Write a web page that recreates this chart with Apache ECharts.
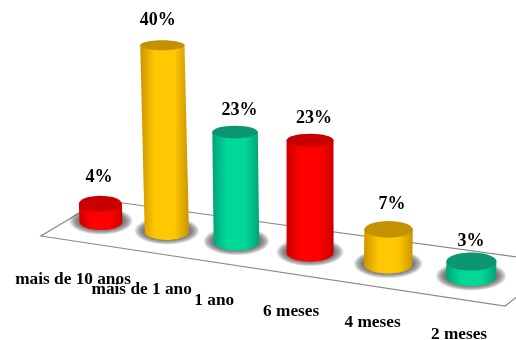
<!DOCTYPE html>
<html>
<head>
<meta charset="utf-8">
<style>html,body{margin:0;padding:0;background:#fff}#chart{width:516px;height:340px}</style>
<script src="https://cdn.jsdelivr.net/npm/echarts@6/dist/echarts.min.js"></script>
</head>
<body>
<div id="chart"></div>
<script>
// Tempo de serviço: share of answers per period
const categories = ['mais de 10 anos', 'mais de 1 ano', '1 ano', '6 meses', '4 meses', '2 meses'];
const shares = [4, 40, 23, 23, 7, 3];

// Colour cycle for the cylinders: [centre, edge, top]
const palette = [
  ['#ff0000', '#cc0000', '#c80000'],
  ['#ffc800', '#cc9400', '#c49200'],
  ['#00d897', '#00a379', '#0b9570']
];
// Small horizontal / vertical nudges for the percentage labels
const labelNudgeX = [-2, -9, 3, 4, 4, 0];
const labelGap = [18, 20, 15, 15, 17, 11];

const FONT = '"Liberation Serif", "Times New Roman", serif';

// Perspective applied to the flat grid: compresses spacing towards the front left
function depth(flatX, rect) {
  const t = (flatX - rect.x) / rect.width;
  return 0.866 * t / (1 - 0.134 * t);
}

function renderFloor() {
  return {
    type: 'polygon',
    silent: true,
    shape: { points: [[41, 236], [505, 306], [560, 263], [101, 200]] },
    style: { fill: '#fff', stroke: '#8a8a8a', lineWidth: 1.2 }
  };
}

function renderBar(params, api) {
  const i = params.dataIndex;
  const value = api.value(1);
  const rect = params.coordSys;
  const flat = api.coord([i, value]);
  const flatBase = api.coord([i, 0]);
  const d = depth(flat[0], rect);
  const scale = 1 + 0.14 * d;

  const cx = rect.x + rect.width * d;
  const baseY = 222 + 55 * d;
  const h = (flatBase[1] - flat[1]) * scale;
  const topY = baseY - h;
  const rx = (43 + 7 * d) / 2;
  const ryBase = 8 + 1 * d;
  const ryTop = Math.max(5, ryBase + 0.4 - h * 0.022);
  const lean = (cx - 311) * h * 0.000167;
  const topX = cx + lean;

  // Cylinder wall: top edge plus the lower half of the base ellipse
  const wall = [[topX - rx, topY], [topX + rx, topY]];
  for (let k = 0; k <= 32; k++) {
    const a = Math.PI * k / 32;
    wall.push([cx + rx * Math.cos(a), baseY + ryBase * Math.sin(a)]);
  }
  const colors = palette[i % palette.length];

  const text = (content, x, y, size) => ({
    type: 'text',
    style: {
      text: content, x, y, fill: '#000',
      font: 'bold ' + size + 'px ' + FONT,
      align: 'center', verticalAlign: 'middle'
    }
  });

  // Contact shadow: stacked translucent ellipses fading outwards
  const shadow = [];
  for (let s = 10; s >= 1; s--) {
    shadow.push({
      type: 'ellipse',
      shape: { cx: cx, cy: baseY - 1, rx: rx + s, ry: ryBase + s * 0.55 },
      style: { fill: 'rgba(80,80,80,0.13)' }
    });
  }

  return {
    type: 'group',
    children: shadow.concat([
      {
        type: 'polygon',
        shape: { points: wall },
        style: {
          fill: {
            type: 'linear', x: 0, y: 0, x2: 1, y2: 0,
            colorStops: [
              { offset: 0, color: colors[1] },
              { offset: 0.3, color: colors[0] },
              { offset: 0.7, color: colors[0] },
              { offset: 1, color: colors[1] }
            ]
          }
        }
      },
      {
        type: 'ellipse',
        shape: { cx: topX, cy: topY, rx: rx, ry: ryTop },
        style: { fill: colors[2] }
      },
      text(value + '%', cx + labelNudgeX[i], topY - ryTop - labelGap[i], 18),
      text(categories[i], cx - 28 + 16 * d, baseY + 58, 17.3)
    ])
  };
}

const chart = echarts.init(document.getElementById('chart'), null, { renderer: 'canvas' });
chart.setOption({
  animation: false,
  backgroundColor: '#fff',
  grid: { left: 101, width: 370, top: 20, height: 273 },
  xAxis: { type: 'category', data: categories, boundaryGap: false, show: false },
  yAxis: { type: 'value', min: 0, max: 60, show: false },
  series: [
    {
      type: 'custom',
      coordinateSystem: 'cartesian2d',
      renderItem: renderFloor,
      data: [[0, 0]],
      silent: true,
      z: 1
    },
    {
      type: 'custom',
      coordinateSystem: 'cartesian2d',
      renderItem: renderBar,
      data: shares.map((v, i) => [i, v]),
      encode: { x: 0, y: 1 },
      clip: false,
      z: 2
    }
  ]
});
</script>
</body>
</html>
